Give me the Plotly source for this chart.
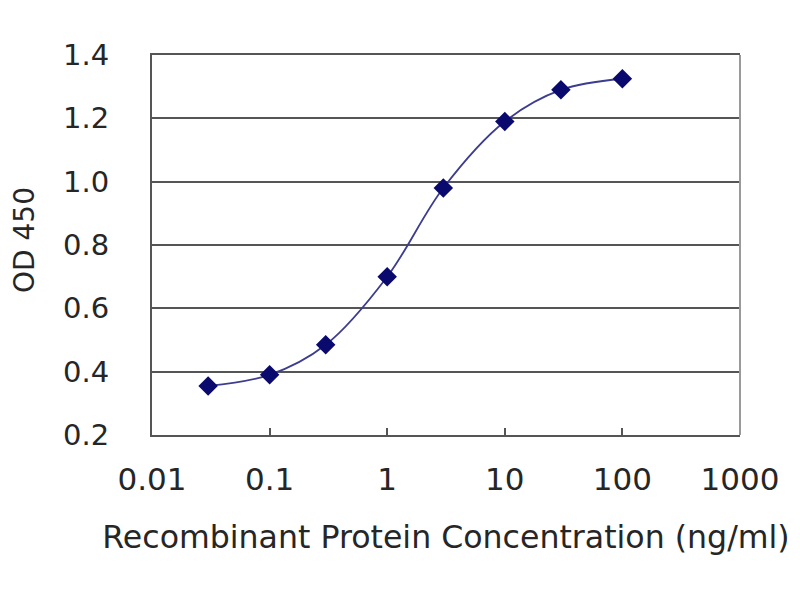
import plotly.graph_objects as go

# concentration (ng/ml) and OD 450 readings
concentration = [0.03, 0.1, 0.3, 1, 3, 10, 30, 100]
od450 = [0.355, 0.39, 0.485, 0.70, 0.98, 1.19, 1.29, 1.325]

x_ticks = [0.01, 0.1, 1, 10, 100, 1000]
x_tick_labels = ["0.01", "0.1", "1", "10", "100", "1000"]
y_ticks = [0.2, 0.4, 0.6, 0.8, 1.0, 1.2, 1.4]
y_tick_labels = ["0.2", "0.4", "0.6", "0.8", "1.0", "1.2", "1.4"]

TEXT_COLOR = "#262626"
AXIS_COLOR = "#555555"
FONT = "DejaVu Sans"

fig = go.Figure()
fig.add_trace(
    go.Scatter(
        x=concentration,
        y=od450,
        mode="lines+markers",
        line=dict(color="#3c3c90", width=1.8, shape="spline", smoothing=1.0),
        marker=dict(symbol="diamond", size=15, color="#0a0a6e"),
        showlegend=False,
    )
)

fig.update_xaxes(
    type="log",
    range=[-2, 3],
    tickvals=x_ticks,
    ticktext=x_tick_labels,
    ticks="inside",
    ticklen=7,
    tickwidth=2,
    tickcolor=AXIS_COLOR,
    showgrid=False,
    zeroline=False,
    showline=True,
    mirror=True,
    linecolor=AXIS_COLOR,
    linewidth=2,
    ticklabelstandoff=16,
    tickfont=dict(family=FONT, size=31, color=TEXT_COLOR),
    title=dict(
        text="Recombinant Protein Concentration (ng/ml)",
        font=dict(family=FONT, size=31.6, color=TEXT_COLOR),
        standoff=30,
    ),
    automargin=False,
)
fig.update_yaxes(
    range=[0.2, 1.4],
    tickvals=y_ticks,
    ticktext=y_tick_labels,
    showgrid=True,
    gridcolor=AXIS_COLOR,
    gridwidth=2,
    zeroline=False,
    showline=True,
    linecolor=AXIS_COLOR,
    linewidth=2,
    ticks="",
    ticklabelstandoff=35,
    tickfont=dict(family=FONT, size=29, color=TEXT_COLOR),
    automargin=False,
)

# y-axis title placed by hand so it can sit closer to the page edge
fig.add_annotation(
    text="OD 450",
    xref="paper", yref="paper",
    x=0, y=0.5,
    xanchor="center", yanchor="middle",
    xshift=-128, yshift=5,
    textangle=-90,
    showarrow=False,
    font=dict(family=FONT, size=28, color=TEXT_COLOR),
)

# lighter right border of the plot frame
fig.add_shape(
    type="line", xref="paper", yref="paper",
    x0=1, x1=1, y0=0, y1=1,
    line=dict(color="#9a9a9a", width=2),
)

fig.update_layout(
    width=800,
    height=600,
    margin=dict(l=144, r=68, t=47, b=173),
    paper_bgcolor="white",
    plot_bgcolor="white",
)

fig.write_html("out.html")
